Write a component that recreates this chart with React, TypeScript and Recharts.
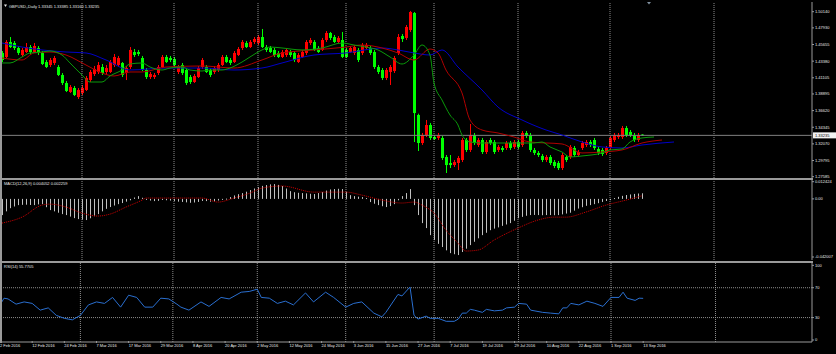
import React from 'react';
import { ComposedChart, Bar, Line, XAxis, YAxis, ReferenceLine } from 'recharts';

// GBPUSD daily, bar 0 = 2 Feb 2016 ... bar 160 = 13 Sep 2016
const opens = [
  1.4450, 1.4395, 1.4600, 1.4586, 1.4518, 1.4422, 1.4463, 1.4531, 1.4463, 1.4518,
  1.4450, 1.4326, 1.4285, 1.4313, 1.4258, 1.4149, 1.4039, 1.3916, 1.3971, 1.3848,
  1.3903, 1.3944, 1.4080, 1.4162, 1.4190, 1.4258, 1.4190, 1.4190, 1.4285, 1.4285,
  1.4313, 1.4176, 1.4258, 1.4463, 1.4463, 1.4381, 1.4217, 1.4121, 1.4121, 1.4176,
  1.4258, 1.4395, 1.4381, 1.4367, 1.4190, 1.4285, 1.4217, 1.4121, 1.4053, 1.4121,
  1.4258, 1.4258, 1.4217, 1.4190, 1.4217, 1.4285, 1.4395, 1.4354, 1.4326, 1.4422,
  1.4518, 1.4586, 1.4531, 1.4600, 1.4586, 1.4668, 1.4531, 1.4518, 1.4491, 1.4450,
  1.4395, 1.4422, 1.4463, 1.4450, 1.4326, 1.4395, 1.4450, 1.4586, 1.4600, 1.4518,
  1.4491, 1.4627, 1.4723, 1.4668, 1.4600, 1.4627, 1.4491, 1.4463, 1.4450, 1.4491,
  1.4450, 1.4518, 1.4518, 1.4463, 1.4258, 1.4217, 1.4108, 1.4190, 1.4203, 1.4450,
  1.4682, 1.4655, 1.4764, 1.4996, 1.3602, 1.3219, 1.3329, 1.3465, 1.3301, 1.3288,
  1.3288, 1.3028, 1.2946, 1.2918, 1.2946, 1.2987, 1.3260, 1.3124, 1.3329, 1.3192,
  1.3260, 1.3096, 1.3260, 1.3233, 1.3124, 1.3151, 1.3151, 1.3219, 1.3165, 1.3233,
  1.3192, 1.3356, 1.3329, 1.3124, 1.3083, 1.3042, 1.2987, 1.3028, 1.2959, 1.2946,
  1.2877, 1.3028, 1.3028, 1.3151, 1.3055, 1.3151, 1.3192, 1.3233, 1.3260, 1.3137,
  1.3124, 1.3083, 1.3151, 1.3260, 1.3301, 1.3301, 1.3424, 1.3370, 1.3329, 1.3260,
  1.33345,
];
const highs = [
  1.4477, 1.4627, 1.4668, 1.4613, 1.4545, 1.4518, 1.4586, 1.4559, 1.4586, 1.4545,
  1.4477, 1.4354, 1.4381, 1.4409, 1.4285, 1.4176, 1.4067, 1.4012, 1.3998, 1.3971,
  1.4012, 1.4135, 1.4217, 1.4272, 1.4326, 1.4299, 1.4285, 1.4354, 1.4436, 1.4409,
  1.4326, 1.4272, 1.4531, 1.4504, 1.4491, 1.4409, 1.4244, 1.4190, 1.4176, 1.4285,
  1.4422, 1.4422, 1.4409, 1.4395, 1.4285, 1.4313, 1.4244, 1.4149, 1.4162, 1.4272,
  1.4381, 1.4285, 1.4244, 1.4272, 1.4313, 1.4422, 1.4422, 1.4381, 1.4477, 1.4531,
  1.4627, 1.4613, 1.4627, 1.4668, 1.4696, 1.4778, 1.4559, 1.4545, 1.4518, 1.4477,
  1.4491, 1.4518, 1.4491, 1.4477, 1.4450, 1.4491, 1.4627, 1.4655, 1.4627, 1.4545,
  1.4655, 1.4750, 1.4737, 1.4696, 1.4682, 1.4737, 1.4518, 1.4545, 1.4559, 1.4518,
  1.4586, 1.4586, 1.4545, 1.4491, 1.4285, 1.4244, 1.4244, 1.4285, 1.4409, 1.4709,
  1.4709, 1.4832, 1.5024, 1.5010, 1.3620, 1.3356, 1.3534, 1.3493, 1.3329, 1.3356,
  1.3315, 1.3055, 1.3055, 1.2987, 1.3042, 1.3288, 1.3288, 1.3479, 1.3356, 1.3288,
  1.3288, 1.3260, 1.3288, 1.3260, 1.3192, 1.3178, 1.3247, 1.3247, 1.3260, 1.3260,
  1.3383, 1.3383, 1.3356, 1.3151, 1.3110, 1.3069, 1.3055, 1.3055, 1.2987, 1.2973,
  1.3083, 1.3055, 1.3192, 1.3178, 1.3124, 1.3247, 1.3260, 1.3260, 1.3288, 1.3165,
  1.3151, 1.3178, 1.3315, 1.3356, 1.3356, 1.3452, 1.3452, 1.3397, 1.3356, 1.3356,
  1.33385,
];
const lows = [
  1.4326, 1.4381, 1.4518, 1.4491, 1.4422, 1.4395, 1.4450, 1.4436, 1.4450, 1.4422,
  1.4285, 1.4244, 1.4258, 1.4285, 1.4135, 1.4012, 1.3916, 1.3903, 1.3862, 1.3821,
  1.3875, 1.3930, 1.4053, 1.4135, 1.4162, 1.4149, 1.4162, 1.4176, 1.4258, 1.4258,
  1.4121, 1.4080, 1.4231, 1.4395, 1.4409, 1.4203, 1.4094, 1.4094, 1.4094, 1.4149,
  1.4244, 1.4313, 1.4326, 1.4258, 1.4162, 1.4149, 1.4012, 1.4026, 1.4039, 1.4108,
  1.4231, 1.4176, 1.4121, 1.4162, 1.4190, 1.4272, 1.4313, 1.4285, 1.4313, 1.4409,
  1.4491, 1.4518, 1.4518, 1.4572, 1.4559, 1.4518, 1.4463, 1.4450, 1.4395, 1.4381,
  1.4381, 1.4395, 1.4395, 1.4326, 1.4313, 1.4381, 1.4422, 1.4559, 1.4477, 1.4450,
  1.4477, 1.4600, 1.4627, 1.4586, 1.4586, 1.4381, 1.4381, 1.4450, 1.4422, 1.4326,
  1.4422, 1.4491, 1.4422, 1.4231, 1.4162, 1.4080, 1.4080, 1.4012, 1.4176, 1.4422,
  1.4600, 1.4627, 1.4737, 1.3233, 1.3110, 1.3192, 1.3301, 1.3260, 1.3260, 1.3260,
  1.2987, 1.2809, 1.2877, 1.2891, 1.2850, 1.2959, 1.3096, 1.3096, 1.3192, 1.3165,
  1.3069, 1.3069, 1.3192, 1.3069, 1.3096, 1.3096, 1.3124, 1.3124, 1.3137, 1.3137,
  1.3165, 1.3288, 1.3096, 1.3055, 1.3028, 1.2959, 1.2959, 1.2918, 1.2877, 1.2850,
  1.2850, 1.2959, 1.3001, 1.3028, 1.3028, 1.3124, 1.3165, 1.3165, 1.3124, 1.3055,
  1.3042, 1.3055, 1.3124, 1.3233, 1.3274, 1.3274, 1.3301, 1.3301, 1.3233, 1.3233,
  1.33160,
];
const closes = [
  1.4354, 1.4600, 1.4531, 1.4518, 1.4450, 1.4491, 1.4531, 1.4463, 1.4545, 1.4450,
  1.4299, 1.4258, 1.4354, 1.4381, 1.4149, 1.4039, 1.3930, 1.3985, 1.3875, 1.3944,
  1.3971, 1.4108, 1.4190, 1.4231, 1.4285, 1.4176, 1.4244, 1.4326, 1.4395, 1.4381,
  1.4149, 1.4244, 1.4491, 1.4422, 1.4436, 1.4217, 1.4121, 1.4162, 1.4149, 1.4258,
  1.4395, 1.4326, 1.4354, 1.4285, 1.4258, 1.4176, 1.4039, 1.4053, 1.4135, 1.4244,
  1.4354, 1.4190, 1.4149, 1.4244, 1.4285, 1.4395, 1.4326, 1.4313, 1.4450, 1.4504,
  1.4600, 1.4531, 1.4600, 1.4641, 1.4668, 1.4531, 1.4491, 1.4463, 1.4422, 1.4395,
  1.4463, 1.4491, 1.4422, 1.4354, 1.4422, 1.4463, 1.4600, 1.4627, 1.4491, 1.4463,
  1.4627, 1.4723, 1.4655, 1.4600, 1.4655, 1.4395, 1.4395, 1.4518, 1.4531, 1.4354,
  1.4559, 1.4559, 1.4450, 1.4258, 1.4190, 1.4108, 1.4217, 1.4258, 1.4381, 1.4668,
  1.4641, 1.4805, 1.5010, 1.3629, 1.3219, 1.3329, 1.3465, 1.3288, 1.3274, 1.3329,
  1.3014, 1.2918, 1.2918, 1.2959, 1.3014, 1.3260, 1.3124, 1.3329, 1.3219, 1.3260,
  1.3096, 1.3233, 1.3219, 1.3096, 1.3165, 1.3124, 1.3219, 1.3151, 1.3233, 1.3165,
  1.3356, 1.3315, 1.3124, 1.3083, 1.3055, 1.2987, 1.3028, 1.2946, 1.2905, 1.2877,
  1.3055, 1.2987, 1.3165, 1.3055, 1.3096, 1.3219, 1.3233, 1.3192, 1.3151, 1.3083,
  1.3069, 1.3151, 1.3288, 1.3329, 1.3329, 1.3424, 1.3329, 1.3329, 1.3260, 1.3329,
  1.33235,
];

// Alligator lines [bar, price] (shifted forward 3 / 5 / 8 bars)
const lipsPts: [number, number][] = [
  [0, 1.4313], [2, 1.4313], [5, 1.4395], [7, 1.445], [10, 1.4463], [12, 1.4477], [15, 1.4422],
  [17, 1.4313], [20, 1.4149], [22, 1.4053], [25, 1.4053], [27, 1.4135], [30, 1.4217], [32, 1.4299],
  [35, 1.4313], [37, 1.4258], [40, 1.4217], [42, 1.4244], [45, 1.4258], [47, 1.4217], [50, 1.4203],
  [52, 1.4217], [55, 1.4217], [57, 1.4244], [60, 1.4326], [62, 1.4395], [65, 1.4491], [67, 1.4531],
  [70, 1.4518], [75, 1.4491], [80, 1.4518], [85, 1.4586], [88, 1.4559], [91, 1.4531], [94, 1.4491],
  [97, 1.4395], [100, 1.4299], [103, 1.4422], [105, 1.4559], [107, 1.4422], [108, 1.4039],
  [110, 1.3807], [112, 1.3602], [114, 1.3465], [115, 1.3329], [117, 1.3233], [120, 1.3219],
  [124, 1.3219], [128, 1.3219], [133, 1.3219], [135, 1.3233], [137, 1.3165], [140, 1.3096],
  [142, 1.3028], [145, 1.3042], [150, 1.3083], [152, 1.3124], [155, 1.3137], [157, 1.3233],
  [160, 1.3288], [163, 1.3301],
];
const teethPts: [number, number][] = [
  [0, 1.4381], [5, 1.4354], [8, 1.445], [12, 1.4463], [16, 1.4422], [21, 1.4285], [25, 1.4176],
  [28, 1.4135], [32, 1.419], [35, 1.419], [41, 1.4258], [50, 1.4272], [58, 1.4244], [65, 1.4354],
  [70, 1.445], [78, 1.4491], [86, 1.4531], [90, 1.4559], [95, 1.4518], [99, 1.445], [103, 1.4354],
  [107, 1.4504], [109, 1.445], [111, 1.4217], [115, 1.3903], [117, 1.3534], [120, 1.3397],
  [124, 1.3356], [128, 1.3301], [132, 1.3233], [140, 1.3206], [145, 1.3083], [150, 1.3096],
  [155, 1.3124], [160, 1.3219], [165, 1.326],
];
const jawPts: [number, number][] = [
  [0, 1.4586], [5, 1.4531], [10, 1.4491], [16, 1.4463], [21, 1.445], [26, 1.4354], [32, 1.4217],
  [41, 1.4244], [50, 1.4244], [58, 1.4217], [65, 1.4244], [70, 1.4313], [78, 1.4422], [86, 1.445],
  [95, 1.4518], [99, 1.4491], [103, 1.445], [107, 1.4422], [110, 1.4491], [114, 1.4258],
  [120, 1.3944], [124, 1.3711], [130, 1.3534], [136, 1.3397], [140, 1.3329], [145, 1.3233],
  [150, 1.3165], [155, 1.3151], [160, 1.3192], [168, 1.3233],
];

// MACD(12,26,9) main histogram, one value per bar
const macdMain = [
  -0.0117, -0.009, -0.0067, -0.0055, -0.0045, -0.0043, -0.0042, -0.0044, -0.0045, -0.004,
  -0.0038, -0.006, -0.0081, -0.009, -0.01, -0.011, -0.0117, -0.0128, -0.0139, -0.0146,
  -0.015, -0.0153, -0.014, -0.0125, -0.011, -0.009, -0.0072, -0.0059, -0.0048, -0.0038,
  -0.003, -0.002, -0.001, 0.001, 0.002, 0.0008, -0.0005, -0.0012, -0.0016, -0.0014,
  -0.0008, -0.001, -0.0012, -0.0015, -0.002, -0.0022, -0.0025, -0.0028, -0.0026, -0.0022,
  -0.0015, -0.0016, -0.002, -0.0018, -0.0012, -0.0005, 0.0002, 0.0013, 0.0025, 0.0034,
  0.0042, 0.0052, 0.0064, 0.0075, 0.0085, 0.0094, 0.01, 0.0105, 0.0107, 0.0101,
  0.0093, 0.0075, 0.0056, 0.0048, 0.0044, 0.0042, 0.004, 0.0037, 0.0035, 0.0042,
  0.0049, 0.006, 0.0068, 0.0071, 0.0073, 0.0071, 0.005, 0.0027, 0.002, 0.0016,
  0.0013, 0.0006, -0.0023, -0.0035, -0.0045, -0.0053, -0.0059, -0.0052, -0.0038, -0.001,
  0.002, 0.0042, 0.0071, -0.0045, -0.0117, -0.0175, -0.0211, -0.0262, -0.0298, -0.0325,
  -0.0348, -0.0372, -0.0392, -0.04, -0.0406, -0.0384, -0.036, -0.0334, -0.031, -0.0285,
  -0.0262, -0.0245, -0.0226, -0.0215, -0.0206, -0.0195, -0.0185, -0.0175, -0.0158, -0.014,
  -0.013, -0.0122, -0.0117, -0.0116, -0.0117, -0.0118, -0.0117, -0.0117, -0.0118, -0.0117,
  -0.0112, -0.0106, -0.01, -0.0085, -0.007, -0.006, -0.005, -0.0045, -0.0038, -0.0031,
  -0.0022, -0.0015, -0.0009, 0.0006, 0.0015, 0.0022, 0.0028, 0.0032, 0.0036, 0.0039,
  0.004052,
];
const macdSignalPts: [number, number][] = [
  [0, -0.0175], [5, -0.0132], [10, -0.0045], [12, -0.0038], [16, -0.0059], [20, -0.0103],
  [24, -0.0124], [27, -0.011], [31, -0.0059], [35, -0.0009], [36, 0.0006], [41, 0.0006],
  [50, 0.0006], [54, -0.0023], [58, 0.0006], [62, 0.0042], [65, 0.0078], [70, 0.0093],
  [78, 0.0049], [86, 0.0049], [90, 0.0027], [95, -0.0009], [100, -0.003], [103, -0.0023],
  [105, -0.0045], [108, -0.0103], [111, -0.0226], [114, -0.032], [116, -0.0377], [119, -0.037],
  [123, -0.0298], [129, -0.0211], [134, -0.0153], [138, -0.0132], [141, -0.0132], [146, -0.0095],
  [151, -0.0045], [156, -0.0009], [160, 0.002259],
];

// RSI(14) [bar, value]
const rsiPts: [number, number][] = [
  [0, 47], [1, 56], [2, 55], [4, 48], [6, 51], [8, 49], [10, 40], [12, 43], [14, 33], [16, 29],
  [18, 27], [20, 33], [22, 47], [24, 51], [26, 49], [28, 57], [30, 44], [32, 60], [34, 57],
  [36, 44], [38, 44], [40, 56], [42, 55], [44, 48], [45, 44], [47, 40], [50, 51], [52, 45],
  [55, 57], [57, 55], [60, 64], [62, 65], [64, 68], [65, 57], [67, 56], [69, 49], [71, 52],
  [73, 47], [76, 63], [78, 51], [81, 64], [83, 57], [86, 44], [88, 49], [90, 51], [93, 36],
  [95, 31], [96, 37], [99, 61], [100, 59], [102, 71], [103, 33], [104, 28], [106, 32], [107, 29],
  [109, 29], [111, 25], [113, 25], [114, 28], [115, 36], [116, 36], [117, 41], [118, 40],
  [120, 37], [121, 41], [123, 39], [125, 40], [126, 43], [128, 44], [129, 49], [131, 48],
  [132, 40], [135, 37], [137, 36], [139, 35], [140, 43], [141, 43], [142, 49], [144, 47],
  [146, 52], [148, 49], [150, 45], [152, 57], [154, 57], [155, 64], [156, 56], [158, 53],
  [159, 56], [160, 55.7705],
];

// axis labels
const dateTicks = [0, 8, 16, 24, 32, 40, 48, 56, 64, 72, 80, 88, 96, 104, 112, 120, 128, 136, 144, 152, 160];
const dateLabels = [
  '2 Feb 2016', '12 Feb 2016', '24 Feb 2016', '7 Mar 2016', '17 Mar 2016', '29 Mar 2016',
  '8 Apr 2016', '20 Apr 2016', '2 May 2016', '12 May 2016', '24 May 2016', '3 Jun 2016',
  '15 Jun 2016', '27 Jun 2016', '7 Jul 2016', '19 Jul 2016', '29 Jul 2016', '10 Aug 2016',
  '22 Aug 2016', '1 Sep 2016', '13 Sep 2016',
];
const monthStarts = [20, 43, 64, 86, 108, 129, 152, 178];
const priceTicks = [1.5014, 1.4793, 1.45655, 1.4338, 1.41105, 1.38895, 1.3662, 1.34345, 1.3207, 1.29795, 1.27585];
const macdTicks = [0.012424, 0, -0.042007];
const rsiTicks = [100, 70, 30, 0];
const rsiLevels = [70, 30];

const SLOTS = 203; // bars incl. the empty shifted space on the right
const lastClose = closes[closes.length - 1];

const colors = {
  bg: '#000000',
  up: '#ff0000',
  down: '#00ff00',
  lips: '#0a9a0a',
  teeth: '#b00000',
  jaw: '#0000c8',
  hist: '#c0c0c0',
  signal: '#d00000',
  rsi: '#2a6fd0',
  grid: '#b0b0b0',
  frame: '#9a9a9a',
  text: '#e8e8e8',
};
const FONT = '"Liberation Sans", Arial, sans-serif';

type Row = { [k: string]: any };
const rows: Row[] = Array.from({ length: SLOTS }, (_, i) => {
  const has = i < closes.length;
  return {
    i,
    range: has ? [lows[i], highs[i]] : null,
    o: has ? opens[i] : null,
    h: has ? highs[i] : null,
    l: has ? lows[i] : null,
    c: has ? closes[i] : null,
    macd: has ? macdMain[i] : null,
  };
});
const put = (pts: [number, number][], key: string) => pts.forEach(([i, v]) => { rows[i][key] = v; });
put(lipsPts, 'lips');
put(teethPts, 'teeth');
put(jawPts, 'jaw');
put(macdSignalPts, 'signal');
put(rsiPts, 'rsi');

const Candle = (props: any) => {
  const { x, y, width, height, payload } = props;
  if (!payload || payload.o == null) return null;
  const { o, h, l, c } = payload;
  const top = Math.min(y, y + height);
  const span = Math.abs(height);
  const k = h > l ? span / (h - l) : 0;
  const yO = top + (h - o) * k;
  const yC = top + (h - c) * k;
  const color = c >= o ? colors.up : colors.down;
  const cx = Math.floor(x + width / 2);
  return (
    <g>
      <rect x={cx} y={top} width={1} height={Math.max(1, span)} fill={color} />
      <rect x={cx - 1} y={Math.min(yO, yC)} width={3} height={Math.max(1, Math.abs(yO - yC))} fill={color} />
    </g>
  );
};

const HistBar = (props: any) => {
  const { x, y, width, height } = props;
  if (height == null || isNaN(height)) return null;
  const cx = Math.floor(x + width / 2);
  return <rect x={cx} y={Math.min(y, y + height)} width={1} height={Math.max(1, Math.abs(height))} fill={colors.hist} />;
};

const makeAxisTick = (fmt: (v: number) => string) => (props: any) => {
  const { x, y, payload } = props;
  const v = payload.value;
  if (v === lastClose) {
    return (
      <g>
        <rect x={x + 1} y={y - 3} width={23} height={6} fill="#f2f2f2" />
        <text x={x + 3} y={y + 1.5} fontSize={4} fontFamily={FONT} fill="#000">{fmt(v)}</text>
      </g>
    );
  }
  return (
    <g>
      <line x1={x} x2={x + 2} y1={y} y2={y} stroke={colors.frame} />
      <text x={x + 3} y={y + 1.5} fontSize={4} fontFamily={FONT} fill={colors.text}>{fmt(v)}</text>
    </g>
  );
};

const DateTick = (props: any) => {
  const { x, y, payload } = props;
  const idx = dateTicks.indexOf(payload.value);
  return (
    <g>
      <line x1={x} x2={x} y1={y - 1} y2={y + 1} stroke={colors.frame} />
      <text x={x} y={y + 4.5} fontSize={4} fontFamily={FONT} fill={colors.text}>{dateLabels[idx]}</text>
    </g>
  );
};

const grid = (ifTop = false) =>
  monthStarts.map((m) => (
    <ReferenceLine key={`g${m}`} x={m} stroke={colors.grid} strokeDasharray="1 1" strokeWidth={0.8} ifOverflow="extendDomain" />
  ));

const W = 836;

const App: React.FC = () => (
  <div style={{ position: 'absolute', left: 0, top: 0, width: W, height: 354, background: colors.bg, overflow: 'hidden' }}>
    {/* price pane */}
    <div style={{ position: 'absolute', left: 0, top: 2 }}>
      <ComposedChart width={W} height={176} data={rows} margin={{ top: 0, right: 0, bottom: 0, left: 0 }} barCategoryGap={0} barGap={0}>
        <XAxis dataKey="i" type="category" hide />
        <YAxis
          orientation="right"
          width={24}
          domain={[1.27407, 1.51466]}
          ticks={[...priceTicks, lastClose]}
          interval={0}
          tickSize={0}
          tickMargin={0}
          axisLine={{ stroke: colors.frame }}
          tickLine={false}
          tick={makeAxisTick((v) => v.toFixed(5))}
          allowDataOverflow
        />
        {grid()}
        <ReferenceLine y={lastClose} stroke="#808080" strokeWidth={1} />
        <Bar dataKey="range" shape={<Candle />} isAnimationActive={false} />
        <Line dataKey="jaw" stroke={colors.jaw} strokeWidth={1} dot={false} type="monotone" connectNulls isAnimationActive={false} />
        <Line dataKey="teeth" stroke={colors.teeth} strokeWidth={1} dot={false} type="monotone" connectNulls isAnimationActive={false} />
        <Line dataKey="lips" stroke={colors.lips} strokeWidth={1} dot={false} type="monotone" connectNulls isAnimationActive={false} />
      </ComposedChart>
    </div>

    {/* MACD pane */}
    <div style={{ position: 'absolute', left: 0, top: 180 }}>
      <ComposedChart width={W} height={80} data={rows} margin={{ top: 0, right: 0, bottom: 0, left: 0 }} barCategoryGap={0} barGap={0}>
        <XAxis dataKey="i" type="category" hide />
        <YAxis
          orientation="right"
          width={24}
          domain={[-0.04418, 0.01365]}
          ticks={macdTicks}
          interval={0}
          tickSize={0}
          tickMargin={0}
          axisLine={{ stroke: colors.frame }}
          tickLine={false}
          tick={makeAxisTick((v) => (v === 0 ? '0.00' : v.toFixed(6)))}
          allowDataOverflow
        />
        {grid()}
        <Bar dataKey="macd" shape={<HistBar />} isAnimationActive={false} />
        <Line dataKey="signal" stroke={colors.signal} strokeWidth={1} strokeDasharray="1 1" dot={false} type="monotone" connectNulls isAnimationActive={false} />
      </ComposedChart>
    </div>

    {/* RSI pane + date axis */}
    <div style={{ position: 'absolute', left: 0, top: 263 }}>
      <ComposedChart width={W} height={91} data={rows} margin={{ top: 0, right: 0, bottom: 0, left: 0 }}>
        <XAxis
          dataKey="i"
          type="category"
          height={12}
          ticks={dateTicks}
          interval={0}
          tickSize={0}
          tickMargin={0}
          axisLine={{ stroke: colors.frame }}
          tickLine={false}
          tick={<DateTick />}
        />
        <YAxis
          orientation="right"
          width={24}
          domain={[-2.68, 103.1]}
          ticks={rsiTicks}
          interval={0}
          tickSize={0}
          tickMargin={0}
          axisLine={{ stroke: colors.frame }}
          tickLine={false}
          tick={makeAxisTick((v) => String(v))}
          allowDataOverflow
        />
        {grid()}
        {rsiLevels.map((lv) => (
          <ReferenceLine key={lv} y={lv} stroke={colors.grid} strokeDasharray="1 1" strokeWidth={0.8} />
        ))}
        <Line dataKey="rsi" stroke={colors.rsi} strokeWidth={1} dot={false} type="linear" connectNulls isAnimationActive={false} />
      </ComposedChart>
    </div>

    {/* frame, separators and pane titles */}
    <svg width={W} height={354} style={{ position: 'absolute', left: 0, top: 0, pointerEvents: 'none' }}>
      <rect x={0} y={0} width={2} height={343} fill={colors.frame} />
      <rect x={0} y={178} width={813} height={2} fill={colors.frame} />
      <rect x={0} y={261} width={813} height={2} fill={colors.frame} />
      <polygon points="647,2 651,2 649,4.5" fill="#8090a0" />
      <polygon points="4,4.5 7,4.5 5.5,7" fill={colors.text} />
      <text x={9} y={7.5} fontSize={4} fontFamily={FONT} fill={colors.text}>
        GBPUSD,,Daily  1.33345 1.33385 1.33160 1.33235
      </text>
      <text x={4} y={185} fontSize={4} fontFamily={FONT} fill={colors.text}>MACD(12,26,9) 0.004052 0.002259</text>
      <text x={4} y={268} fontSize={4} fontFamily={FONT} fill={colors.text}>RSI(14) 55.7705</text>
    </svg>
  </div>
);

export default App;
